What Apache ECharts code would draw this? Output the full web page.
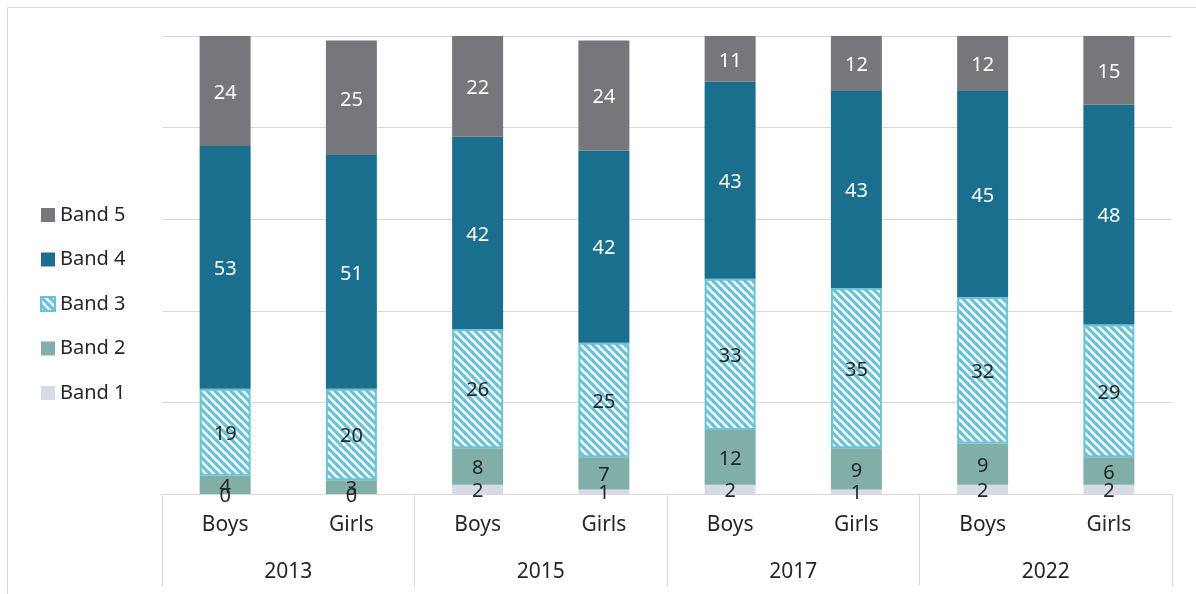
<!DOCTYPE html>
<html>
<head>
<meta charset="utf-8">
<script src="https://cdn.jsdelivr.net/npm/echarts@6/dist/echarts.min.js"></script>
<style>
  html, body { margin: 0; padding: 0; background: #fff; }
  #chart { width: 1196px; height: 594px; }
</style>
</head>
<body>
<div id="chart"></div>
<script>
var groups = ['Boys', 'Girls', 'Boys', 'Girls', 'Boys', 'Girls', 'Boys', 'Girls'];
var years = ['2013', '2015', '2017', '2022'];
var band1 = [0, 0, 2, 1, 2, 1, 2, 2];
var band2 = [4, 3, 8, 7, 12, 9, 9, 6];
var band3 = [19, 20, 26, 25, 33, 35, 32, 29];
var band4 = [53, 51, 42, 42, 43, 43, 45, 48];
var band5 = [24, 25, 22, 24, 11, 12, 12, 15];

var chartDom = document.getElementById('chart');
var myChart = echarts.init(chartDom);
var font = 'Noto Sans';

// striped fill for band 3
var tile = document.createElement('canvas');
var n = 8;
tile.width = n;
tile.height = n;
var ctx = tile.getContext('2d');
ctx.fillStyle = '#ffffff';
ctx.fillRect(0, 0, n, n);
ctx.strokeStyle = '#6cc3d5';
ctx.lineWidth = 3.2;
[-n, 0, n].forEach(function (o) {
  ctx.beginPath();
  ctx.moveTo(o - 1, -1);
  ctx.lineTo(o + n + 1, n + 1);
  ctx.stroke();
});
var hatch = { image: tile, repeat: 'repeat' };

function band(name, data, color, textColor, extra) {
  var s = {
    name: name,
    type: 'bar',
    stack: 'total',
    barWidth: 51,
    data: data,
    itemStyle: { color: color },
    label: {
      show: true,
      position: 'inside',
      color: textColor,
      fontFamily: font,
      fontSize: 20,
      offset: [0, 2]
    }
  };
  if (extra) s.itemStyle = Object.assign(s.itemStyle, extra);
  return s;
}

var option = {
  animation: false,
  textStyle: { fontFamily: font },
  graphic: [{
    type: 'rect',
    shape: { x: 7.5, y: 7.5, width: 1220, height: 620 },
    style: { fill: 'none', stroke: '#d9d9d9', lineWidth: 1 },
    silent: true
  }],
  legend: {
    orient: 'vertical',
    left: 35,
    top: 200,
    itemWidth: 14,
    itemHeight: 14,
    itemGap: 24.5,
    icon: 'rect',
    textStyle: { fontFamily: font, fontSize: 20, color: '#262626' },
    data: ['Band 5', 'Band 4', 'Band 3', 'Band 2', 'Band 1']
  },
  grid: { left: 162, right: 24, top: 36, bottom: 100 },
  xAxis: [
    {
      type: 'category',
      data: groups,
      axisLine: { show: true, lineStyle: { color: '#d9d9d9', width: 1 } },
      axisTick: { show: false },
      axisLabel: { color: '#262626', fontFamily: font, fontSize: 21, margin: 21, interval: 0 }
    },
    {
      type: 'category',
      data: years,
      position: 'bottom',
      axisLine: { show: false },
      axisTick: { show: true, length: 92, interval: 0, lineStyle: { color: '#d9d9d9' } },
      axisLabel: { color: '#262626', fontFamily: font, fontSize: 21, margin: 68, interval: 0 }
    }
  ],
  yAxis: {
    type: 'value',
    min: 0,
    max: 100,
    interval: 20,
    axisLabel: { show: false },
    axisLine: { show: false },
    axisTick: { show: false },
    splitLine: { lineStyle: { color: '#d9d9d9', width: 1 } }
  },
  series: [
    band('Band 1', band1, '#d9dae9', '#262626'),
    band('Band 2', band2, '#7fafa6', '#262626'),
    band('Band 3', band3, hatch, '#262626', { borderColor: '#6cc3d5', borderWidth: 2 }),
    band('Band 4', band4, '#1a6f8e', '#ffffff'),
    band('Band 5', band5, '#76777b', '#ffffff')
  ]
};

option && myChart.setOption(option);
</script>
</body>
</html>
